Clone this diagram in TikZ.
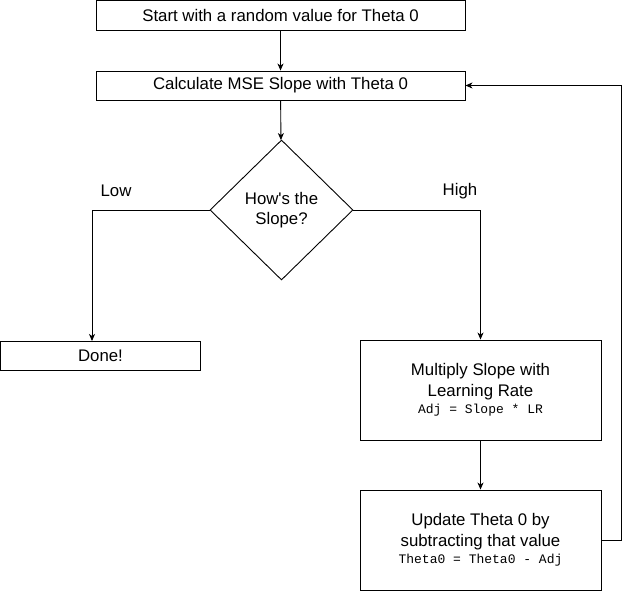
\documentclass[tikz,border=0pt]{standalone}
\usepackage{fontspec}
\setmainfont{Liberation Sans}
\setmonofont{Liberation Mono}
\usetikzlibrary{arrows.meta,shapes.geometric}

\begin{document}
\begin{tikzpicture}[x=1pt,y=1pt,line width=0.9pt,
  box/.style={draw,rectangle,inner sep=0pt,align=center,font=\fontsize{16.8}{20.5}\selectfont},
  decision/.style={draw,diamond,inner sep=0pt,align=center,font=\fontsize{16.8}{20.5}\selectfont},
  flow/.style={-{Stealth[length=7pt,width=6pt,inset=2pt]}}]
\useasboundingbox (0,0) rectangle (629,592);
% Boxes
\node [box,minimum width=369pt,minimum height=30pt] (start) at (280.5,576.5) {Start with a random value for Theta 0};
\node [box,minimum width=369pt,minimum height=29pt] (calc) at (280.5,506.5) {Calculate MSE Slope with Theta 0};
\node [decision,minimum width=143pt,minimum height=140pt] (slope) at (281.5,382) {How\textquotesingle s the\\Slope?};
\node [box,minimum width=200pt,minimum height=29pt] (done) at (100.5,236.5) {Done!};
\node [box,minimum width=241pt,minimum height=100pt] (mult) at (480.5,202) {Multiply Slope with\\Learning Rate\\[-3pt]{\fontsize{13}{15}\selectfont\ttfamily Adj = Slope * LR}};
\node [box,minimum width=241pt,minimum height=100pt] (update) at (480.5,52) {Update Theta 0 by\\subtracting that value\\[-3pt]{\fontsize{13}{15}\selectfont\ttfamily Theta0 = Theta0 - Adj}};
%
\node [font=\fontsize{16.8}{20.5}\selectfont] (low) at (116,401) {Low};
\node [font=\fontsize{16.8}{20.5}\selectfont] (high) at (460,401) {High};
%
\coordinate (lowdrop) at (92,251);
\coordinate (loop) at (621,52);
% Connectors
\draw [flow] (start) -- (calc);
\draw [flow] (calc) -- (slope);
\draw [flow] (slope.west) -| (lowdrop);
\draw [flow] (slope.east) -| (mult.north);
\draw [flow] (mult) -- (update);
\draw [flow] (update.east) -- (loop) |- (calc.east);
\end{tikzpicture}
\end{document}
